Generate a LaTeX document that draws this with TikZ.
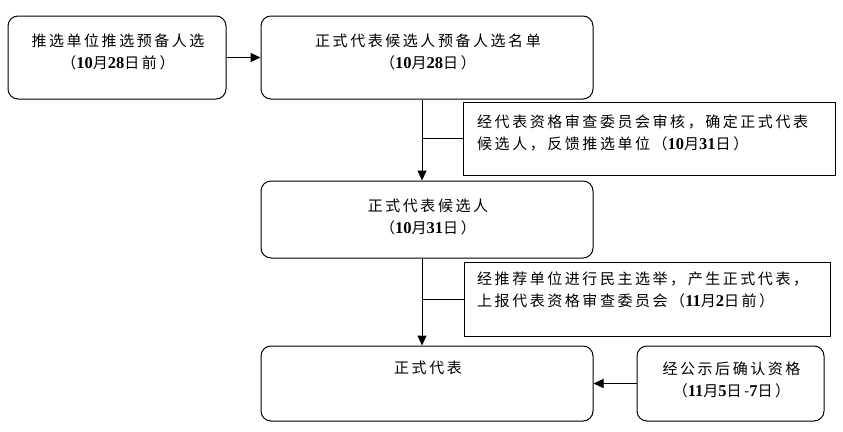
\documentclass[tikz,border=0pt]{standalone}
\usepackage{fontspec}
\setmainfont{Noto Sans CJK SC}[LetterSpace=17]
\newfontfamily\numfont{Liberation Serif}[Scale=1.1]
\usetikzlibrary{arrows.meta}
\newcommand{\nb}[1]{{\numfont\bfseries #1}}
\tikzset{
  rbox/.style={draw, line width=1pt, rounded corners=10pt, inner sep=0pt},
  sbox/.style={draw, line width=1pt, inner sep=0pt},
  txt/.style={inner sep=0pt, align=center, font=\fontsize{15pt}{22pt}\selectfont},
  ltxt/.style={inner sep=0pt, align=left, anchor=west, font=\fontsize{15pt}{22pt}\selectfont},
  line/.style={line width=1pt},
  arr/.style={line width=1pt, -{Triangle[length=10pt,width=9pt]}}
}
\begin{document}
\begin{tikzpicture}[x=1pt,y=-1pt]
\useasboundingbox[fill=white] (0,0) rectangle (843,431);
% boxes
\node[rbox, minimum width=218pt, minimum height=83pt] (b1) at (117,57.5) {};
\node[rbox, minimum width=332pt, minimum height=83pt] (b2) at (427,57.5) {};
\node[sbox, minimum width=372pt, minimum height=73pt] (s1) at (649,138.5) {};
\node[rbox, minimum width=332pt, minimum height=77pt] (b3) at (427,219.5) {};
\node[sbox, minimum width=366pt, minimum height=74pt] (s2) at (647,299) {};
\node[rbox, minimum width=332pt, minimum height=75pt] (b4) at (427,383.5) {};
\node[rbox, minimum width=187pt, minimum height=75pt] (b5) at (730.5,383.5) {};
% texts
\node[txt] (t1) at (118,51.5) {推选单位推选预备人选\\（\nb{10}月\nb{28}日前）};
\node[txt] (t2) at (428,51.5) {正式代表候选人预备人选名单\\（\nb{10}月\nb{28}日）};
\node[ltxt] (t3) at (477,132.5) {经代表资格审查委员会审核，确定正式代表\\候选人，反馈推选单位（\nb{10}月\nb{31}日）};
\node[txt] (t4) at (428,217) {正式代表候选人\\（\nb{10}月\nb{31}日）};
\node[ltxt] (t5) at (477,290) {经推荐单位进行民主选举，产生正式代表，\\上报代表资格审查委员会（\nb{11}月\nb{2}日前）};
\node[txt] (t6) at (428,368) {正式代表};
\node[txt] (t7) at (731.5,380) {经公示后确认资格\\（\nb{11}月\nb{5}日-\nb{7}日）};
% connectors
\coordinate (c1) at (422,0);
\draw[arr] (b1.east) -- (b2.west);
\draw[arr] (c1 |- b2.south) -- (c1 |- b3.north);
\draw[line] (c1 |- s1.west) -- (s1.west);
\draw[arr] (c1 |- b3.south) -- (c1 |- b4.north);
\draw[line] (c1 |- s2.west) -- (s2.west);
\draw[arr] (b5.west) -- (b4.east);
\end{tikzpicture}
\end{document}
